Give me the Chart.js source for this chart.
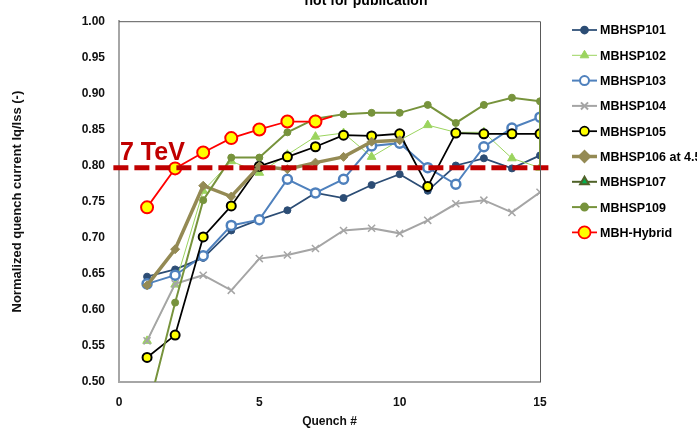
<!DOCTYPE html>
<html>
<head>
<meta charset="utf-8">
<script src="https://cdn.jsdelivr.net/npm/chart.js@4.4.1/dist/chart.umd.min.js"></script>
<style>
  html, body { margin: 0; padding: 0; background: #fff; }
  #wrap { position: relative; width: 697px; height: 431px; overflow: hidden; }
</style>
</head>
<body>
<div id="wrap"><canvas id="quenchChart" width="697" height="431"></canvas></div>
<script>
// --- data ---
const QUENCH = [1, 2, 3, 4, 5, 6, 7, 8, 9, 10, 11, 12, 13, 14, 15];
const Y_TICKS = [0.50, 0.55, 0.60, 0.65, 0.70, 0.75, 0.80, 0.85, 0.90, 0.95, 1.00];
const X_TICKS = [0, 5, 10, 15];

const MBHSP101 = [0.646, 0.656, 0.672, 0.710, 0.725, 0.738, 0.762, 0.755, 0.773, 0.788, 0.765, 0.800, 0.810, 0.796, 0.814];
const MBHSP102 = [0.557, 0.635, 0.765, 0.806, 0.790, 0.815, 0.840, 0.845, 0.812, 0.835, 0.856, 0.846, 0.846, 0.810, 0.797];
const MBHSP103 = [0.636, 0.648, 0.675, 0.717, 0.725, 0.781, 0.762, 0.781, 0.827, 0.831, 0.797, 0.774, 0.826, 0.852, 0.867];
const MBHSP104 = [0.557, 0.636, 0.648, 0.627, 0.671, 0.676, 0.685, 0.710, 0.713, 0.706, 0.724, 0.747, 0.752, 0.735, 0.763];
const MBHSP105 = [0.534, 0.565, 0.701, 0.744, 0.799, 0.812, 0.826, 0.842, 0.841, 0.844, 0.771, 0.845, 0.844, 0.844, 0.844];
const MBHSP106 = [0.634, 0.684, 0.772, 0.757, 0.799, 0.795, 0.804, 0.812, 0.833, 0.835];
const MBHSP107 = [];
const MBHSP109 = [0.456, 0.610, 0.752, 0.811, 0.811, 0.846, 0.865, 0.871, 0.873, 0.873, 0.884, 0.859, 0.884, 0.894, 0.889];
const MBHSP109_TAIL = [{ x: 15, y: 0.795 }];
const HYBRID = [0.742, 0.796, 0.818, 0.838, 0.850, 0.861, 0.861];
const HYBRID_TAIL = [{ x: 7.6, y: 0.868 }];

const TEV_LEVEL = 0.797;
const TEV_SPAN = [-0.2, 15.4];

const toPoints = (vals) => vals.map((v, i) => ({ x: QUENCH[i], y: v }));
// markers only on the real quench points, not on the tails
const radii = (n, r, extra) => Array(n).fill(r).concat(Array(extra).fill(0));

const FONT = "'Liberation Sans', Arial, sans-serif";

const series = [
    { label: "MBHSP101", data: toPoints(MBHSP101), borderColor: "#2c4d75", borderWidth: 1.75,
      pointStyle: "circle", pointRadius: 3.5, pointBackgroundColor: "#2c4d75", pointBorderColor: "#2c4d75", pointBorderWidth: 1 },
    { label: "MBHSP102", data: toPoints(MBHSP102), borderColor: "#9bd45e", borderWidth: 1,
      pointStyle: "triangle", pointRadius: 5, pointBackgroundColor: "#9bd45e", pointBorderColor: "#9bd45e", pointBorderWidth: 1 },
    { label: "MBHSP103", data: toPoints(MBHSP103), borderColor: "#4f81bd", borderWidth: 2,
      pointStyle: "circle", pointRadius: 4.5, pointBackgroundColor: "#ffffff", pointBorderColor: "#4f81bd", pointBorderWidth: 2.5 },
    { label: "MBHSP104", data: toPoints(MBHSP104), borderColor: "#a5a5a5", borderWidth: 2,
      pointStyle: "crossRot", pointRadius: 5, pointBackgroundColor: "#a5a5a5", pointBorderColor: "#a5a5a5", pointBorderWidth: 1.5 },
    { label: "MBHSP105", data: toPoints(MBHSP105), borderColor: "#000000", borderWidth: 1.75,
      pointStyle: "circle", pointRadius: 4.5, pointBackgroundColor: "#ffff00", pointBorderColor: "#000000", pointBorderWidth: 2 },
    { label: "MBHSP106 at 4.5K", data: toPoints(MBHSP106), borderColor: "#948a54", borderWidth: 3.5,
      pointStyle: "rectRot", pointRadius: 4.5, pointBackgroundColor: "#948a54", pointBorderColor: "#948a54", pointBorderWidth: 1 },
    { label: "MBHSP107", data: toPoints(MBHSP107), borderColor: "#4f6228", borderWidth: 2,
      pointStyle: "triangle", pointRadius: 5, pointBackgroundColor: "#00b050", pointBorderColor: "#4f6228", pointBorderWidth: 1.5 },
    { label: "MBHSP109", data: toPoints(MBHSP109).concat(MBHSP109_TAIL), borderColor: "#77933c", borderWidth: 2,
      pointStyle: "circle", pointRadius: radii(MBHSP109.length, 3.5, MBHSP109_TAIL.length),
      pointBackgroundColor: "#77933c", pointBorderColor: "#77933c", pointBorderWidth: 1 },
    { label: "MBH-Hybrid", data: toPoints(HYBRID).concat(HYBRID_TAIL), borderColor: "#ff0000", borderWidth: 1.75,
      pointStyle: "circle", pointRadius: radii(HYBRID.length, 6, HYBRID_TAIL.length),
      pointBackgroundColor: "#ffff00", pointBorderColor: "#ff0000", pointBorderWidth: 2 }
];

// excel stacks later series on top; chart.js draws lower "order" last
series.forEach((s, i) => {
    s.order = series.length - i + 1;
    s.fill = false;
    s.tension = 0;
    s.pointHoverRadius = s.pointRadius;
});

const tevLine = {
    label: "7 TeV", data: TEV_SPAN.map(x => ({ x: x, y: TEV_LEVEL })),
    borderColor: "#c00000", borderWidth: 5, borderDash: [15, 6], borderCapStyle: "butt",
    pointRadius: 0, fill: false, clip: false, order: 0
};

const extrasPlugin = {
    id: "extras",
    afterDatasetsDraw(chart) {
        const { ctx, chartArea: a } = chart;
        ctx.save();
        // top + right frame
        ctx.strokeStyle = "#595959";
        ctx.lineWidth = 1;
        ctx.beginPath();
        ctx.moveTo(a.left, a.top + 0.5);
        ctx.lineTo(a.right + 0.5, a.top + 0.5);
        ctx.lineTo(a.right + 0.5, a.bottom);
        ctx.stroke();

        // 7 TeV label
        ctx.fillStyle = "#c00000";
        ctx.font = "bold 25px " + FONT;
        ctx.textAlign = "left";
        ctx.textBaseline = "alphabetic";
        ctx.fillText("7 TeV", a.left + 1, chart.scales.y.getPixelForValue(TEV_LEVEL) - 8);

        // title, cut by the top edge
        ctx.fillStyle = "#000";
        ctx.font = "bold 14px " + FONT;
        ctx.textAlign = "center";
        ctx.fillText("not for publication", 366, 5);

        // legend
        ctx.font = "bold 12.5px " + FONT;
        ctx.textAlign = "left";
        ctx.textBaseline = "middle";
        const x0 = 572, x1 = 597, rowTop = 30, rowStep = 25.3;
        series.forEach((s, i) => {
            const y = rowTop + i * rowStep;
            ctx.strokeStyle = s.borderColor;
            ctx.lineWidth = s.borderWidth;
            ctx.setLineDash([]);
            ctx.beginPath();
            ctx.moveTo(x0, y);
            ctx.lineTo(x1, y);
            ctx.stroke();
            const r = Array.isArray(s.pointRadius) ? s.pointRadius[0] : s.pointRadius;
            ctx.fillStyle = s.pointBackgroundColor;
            ctx.strokeStyle = s.pointBorderColor;
            Chart.helpers.drawPoint(ctx, {
                pointStyle: s.pointStyle, radius: r, rotation: 0, borderWidth: s.pointBorderWidth
            }, (x0 + x1) / 2, y);
            ctx.fillStyle = "#000";
            ctx.fillText(s.label, 600, y + 1);
        });
        ctx.restore();
    }
};

new Chart(document.getElementById("quenchChart"), {
    type: "line",
    data: { datasets: series.concat([tevLine]) },
    options: {
        responsive: false,
        animation: false,
        devicePixelRatio: 1,
        layout: { padding: { top: 14, right: 157, left: 0, bottom: 0 } },
        plugins: { legend: { display: false }, tooltip: { enabled: false } },
        scales: {
            x: {
                type: "linear", min: 0, max: 15,
                afterBuildTicks: (s) => { s.ticks = X_TICKS.map(v => ({ value: v })); },
                afterFit: (s) => { s.height = 49; },
                grid: { display: false, drawTicks: false },
                border: { color: "#a6a6a6", width: 2 },
                ticks: { padding: 13, color: "#111", font: { family: FONT, size: 12, weight: "bold" } },
                title: { display: true, text: "Quench #", color: "#111", padding: { top: 0, bottom: 2 },
                         font: { family: FONT, size: 12, weight: "bold" } }
            },
            y: {
                min: 0.5, max: 1.0,
                afterBuildTicks: (s) => { s.ticks = Y_TICKS.map(v => ({ value: v })); },
                afterFit: (s) => { s.width = 119; },
                grid: { display: false, drawTicks: false },
                border: { color: "#a6a6a6", width: 2 },
                ticks: { padding: 14, color: "#111", font: { family: FONT, size: 12, weight: "bold" },
                         callback: (v) => Number(v).toFixed(2) },
                title: { display: true, text: "Normalized quench current Iq/Iss (-)", color: "#111",
                         padding: { top: 10, bottom: 0 }, font: { family: FONT, size: 13, weight: "bold" } }
            }
        }
    },
    plugins: [extrasPlugin]
});
</script>
</body>
</html>
